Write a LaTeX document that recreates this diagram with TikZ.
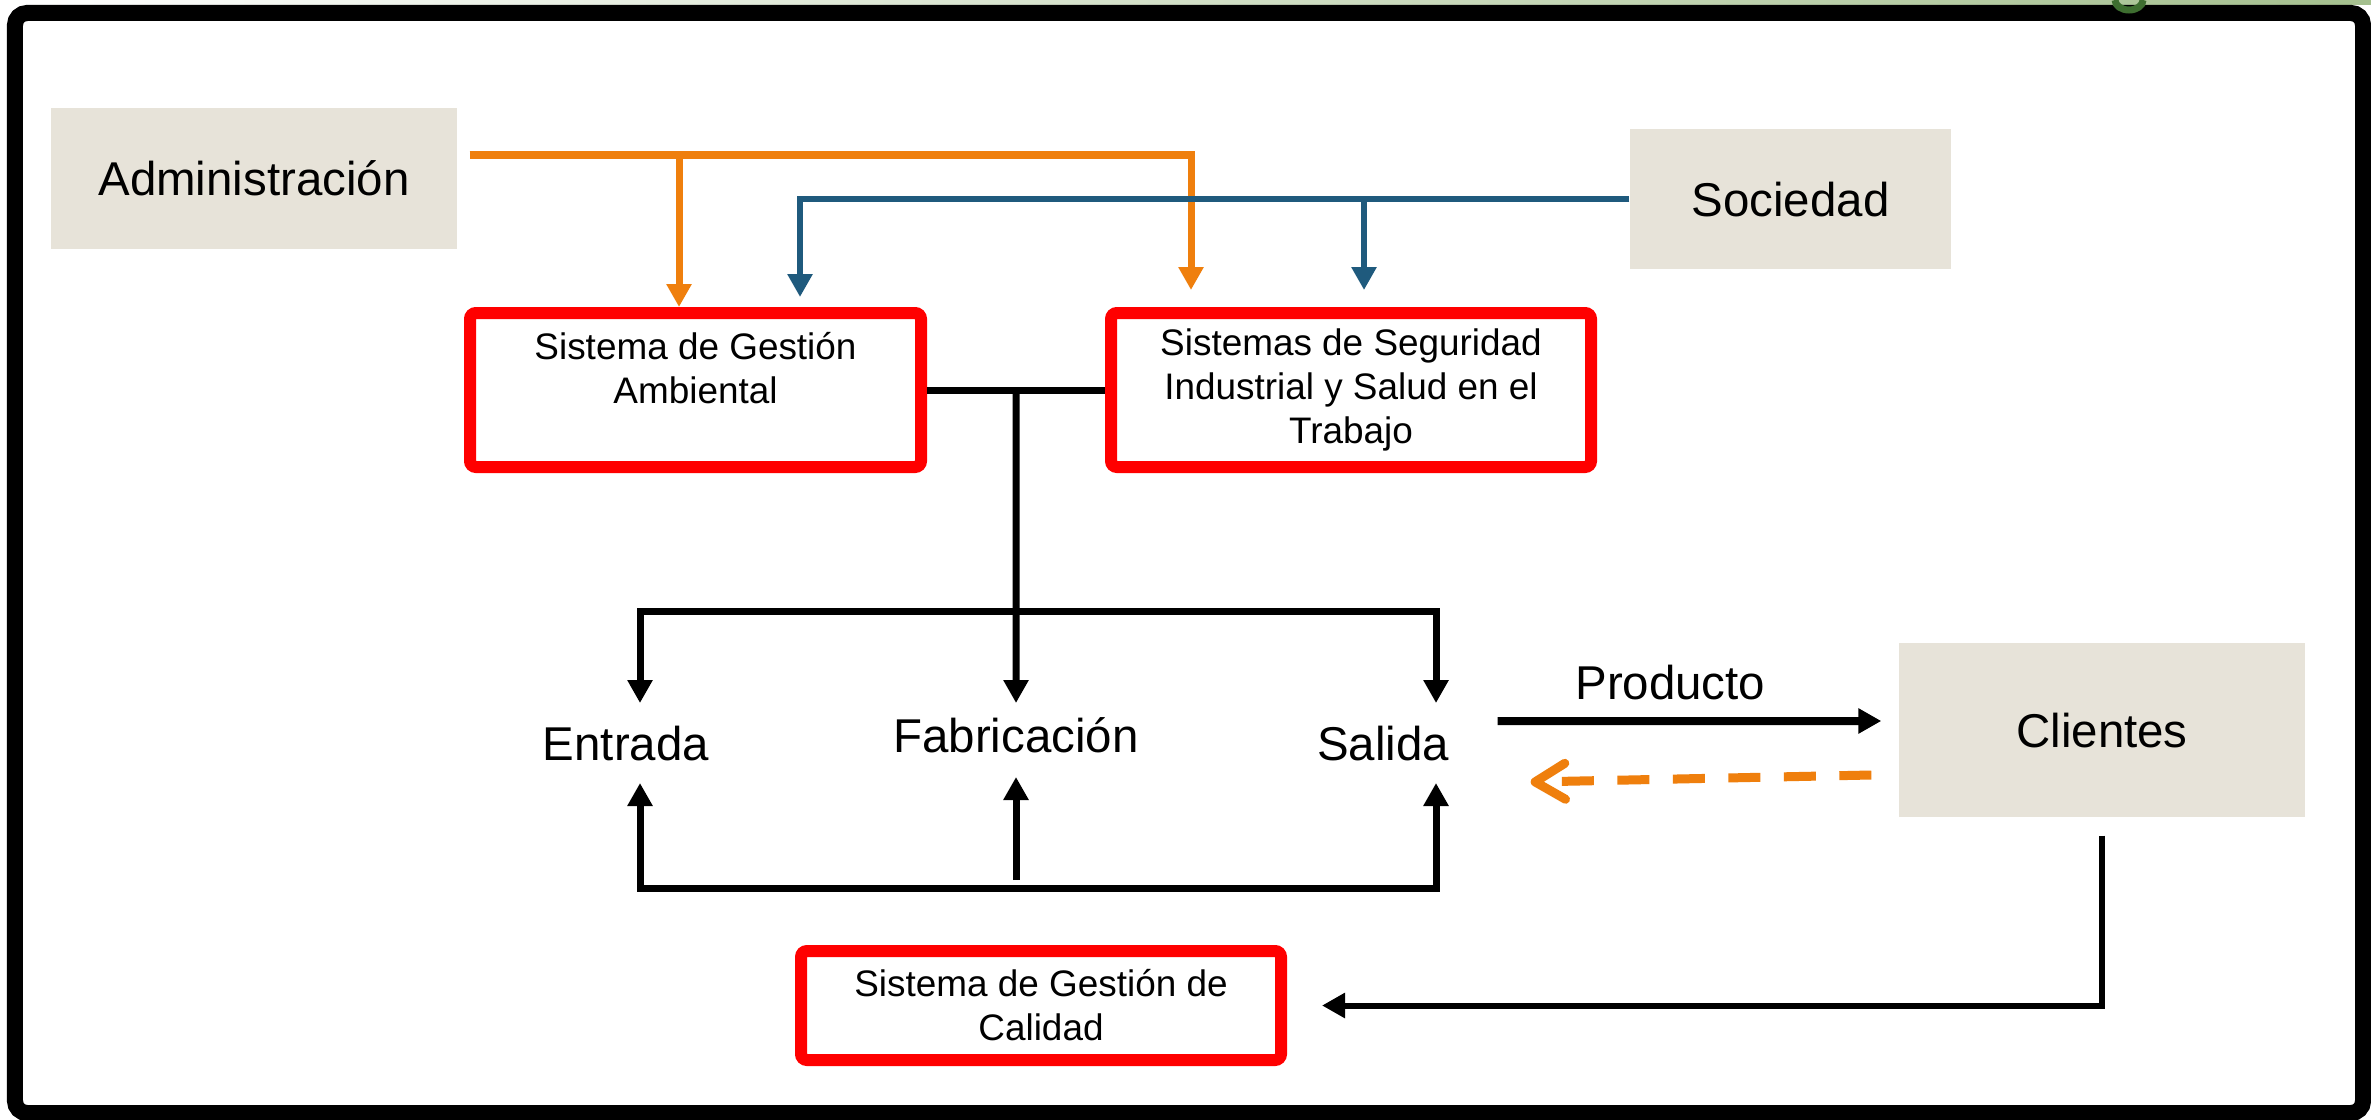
\documentclass[tikz,border=0pt]{standalone}
\usepackage{fontspec}
\setmainfont{Liberation Sans}
\usetikzlibrary{arrows.meta,calc}
\definecolor{fondo}{RGB}{231,227,217}
\definecolor{rojo}{RGB}{255,0,0}
\definecolor{naranja}{RGB}{239,127,13}
\definecolor{azul}{RGB}{31,90,125}
\definecolor{verde}{RGB}{165,192,143}
\definecolor{verdeosc}{RGB}{62,110,48}

\begin{document}
\begin{tikzpicture}[>={Triangle[length=0.23cm,width=0.24cm]},
    actor/.style={shape=rectangle,fill=fondo,font=\fontsize{13.5}{16}\selectfont,text height=0.34cm,text depth=0cm},
    sistema/.style={shape=rectangle,draw=rojo,line width=0.12cm,rounded corners=0.06cm,align=center,font=\fontsize{10.5}{12.5}\selectfont},
    etapa/.style={inner sep=0pt,anchor=base,font=\fontsize{13.5}{16}\selectfont},
    negro/.style={->,line width=0.07cm},
    nar/.style={->,draw=naranja,line width=0.07cm},
    az/.style={->,draw=azul,line width=0.06cm}]
      \useasboundingbox (0,0) rectangle (23.71,11.19);
      \shade[left color=white,right color=verde] (0,11.14) rectangle (23.71,11.19);
      \draw[line width=0.16cm,rounded corners=0.12cm,fill=white] (0.15,0.06) rectangle (23.63,11.06);
      \draw[verdeosc,line width=0.07cm] (21.15,11.19) arc[start angle=180,end angle=360,x radius=0.14,y radius=0.1];

      \node[actor,minimum width=4.06cm,minimum height=1.41cm] (0) at (2.54,9.405) {Administración};
      \node[actor,minimum width=3.21cm,minimum height=1.40cm] (1) at (17.905,9.20) {Sociedad};
      \node[sistema,minimum width=4.51cm,minimum height=1.54cm] (2) at (6.955,7.29) {Sistema de Gestión\\Ambiental\\~};
      \node[sistema,minimum width=4.80cm,minimum height=1.54cm] (3) at (13.51,7.29) {Sistemas de Seguridad\\Industrial y Salud en el\\Trabajo};
      \node[etapa] (4) at (6.26,3.59) {Entrada};
      \node[etapa] (5) at (10.16,3.67) {Fabricación};
      \node[etapa] (6) at (13.83,3.59) {Salida};
      \node[actor,minimum width=4.06cm,minimum height=1.74cm] (7) at (21.02,3.89) {Clientes};
      \node[sistema,minimum width=4.80cm,minimum height=1.09cm] (8) at (10.41,1.135) {Sistema de Gestión de\\Calidad};

      % administracion y sociedad
      \coordinate (o) at ([shift={(0.12,0.235)}]0.east);
      \draw[nar] (o) -| ([shift={(-1.60,0.17)}]3.north);
      \draw[nar] ($(o -| 2.north)+(-0.165,0)$) -- ([xshift=-0.165cm]2.north);
      \draw[az] (1.west) -| ([shift={(1.045,0.10)}]2.north);
      \draw[az] ($(1.west -| 3.north)+(0.13,0)$) -- ([shift={(0.13,0.17)}]3.north);

      % proceso
      \draw[line width=0.07cm] (2) -- (3);
      \coordinate (t) at ($(2.east)!0.5!(3.west)$);
      \draw[negro] (t) -- ([yshift=0.49cm]5.base);
      \draw[negro] (t |- 0,5.08) -| ([shift={(0.14,0.57)}]4.base);
      \draw[negro] (t |- 0,5.08) -| ([shift={(0.53,0.57)}]6.base);
      \draw[negro] ([yshift=-1.36cm]5.base) -| ([shift={(0.14,-0.23)}]4.base);
      \draw[negro] ([yshift=-1.36cm]5.base) -| ([shift={(0.53,-0.23)}]6.base);
      \draw[negro] ([yshift=-1.28cm]5.base) -- ([yshift=-0.25cm]5.base);

      % clientes
      \path [negro,line width=0.08cm]([shift={(0.48,0.39)}]6.base east) edge node[etapa,pos=0.45,yshift=0.22cm] {Producto} ([shift={(-0.17,0.09)}]7.west) ;
      \draw[naranja,line width=0.09cm,dash pattern=on 0.32cm off 0.235cm,-{Straight Barb[length=0.3cm,width=0.36cm,round]}] ([shift={(-0.27,-0.45)}]7.west) -- ([shift={(0.81,-0.22)}]6.base east);
      \draw[->,line width=0.06cm] ([yshift=-0.18cm]7.south) |- ([xshift=0.35cm]8.east);
    \end{tikzpicture}
\end{document}
